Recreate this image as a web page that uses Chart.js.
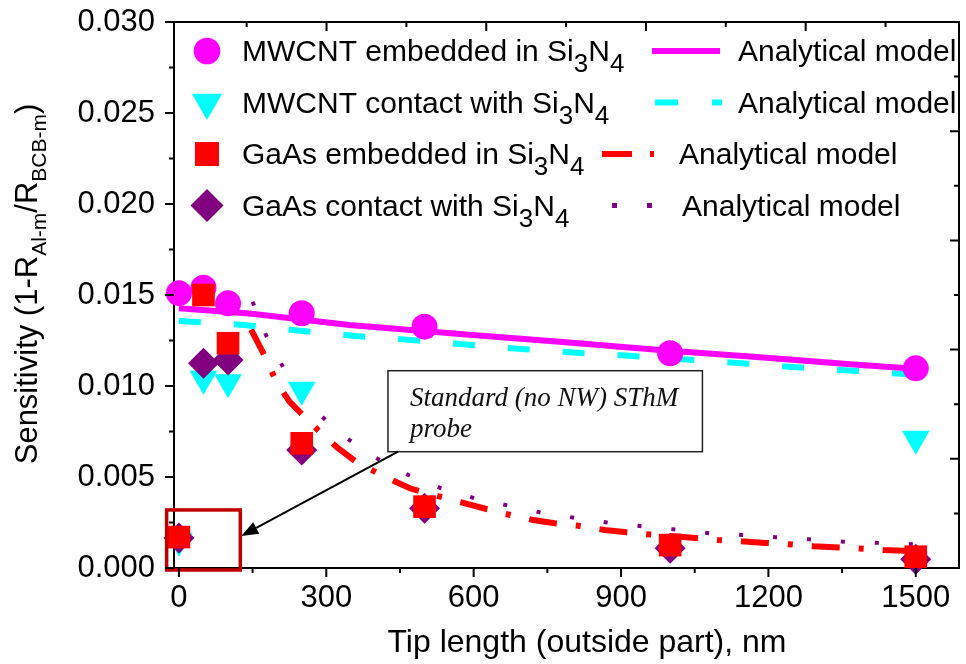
<!DOCTYPE html>
<html>
<head>
<meta charset="utf-8">
<title>Sensitivity vs tip length</title>
<script src="https://cdn.jsdelivr.net/npm/chart.js@4.4.1/dist/chart.umd.min.js"></script>
<style>
  html, body { margin: 0; padding: 0; background: #fff; }
  canvas { display: block; }
</style>
</head>
<body>
<canvas id="sensChart" width="966" height="664"></canvas>
<script>
// Measured points (tip length in nm)
const tipLength = [0, 50, 100, 250, 500, 1000, 1500];
const mwcntEmbedded = [0.0151, 0.0154, 0.01454, 0.0140, 0.01326, 0.0118, 0.01097];
const gaasEmbedded = [0.0017, 0.0150, 0.01235, 0.00685, 0.00337, 0.00126, 0.00062];
const gaasContact = [0.00165, 0.01125, 0.01143, 0.00648, 0.00328, 0.00108, 0.00048];
const mwcntContactLength = [0, 50, 100, 250, 1500];
const mwcntContact = [0.0015, 0.0104, 0.0102, 0.0098, 0.0071];

// Analytical model curves
const mwcntEmbModelX = [0, 144, 347, 572, 775, 979, 1183, 1387, 1500];
const mwcntEmbModelY = [0.01427, 0.01398, 0.01335, 0.01286, 0.01243, 0.01198, 0.01158, 0.01115, 0.01095];
const mwcntConModelX = [0, 134, 246, 358, 472, 697, 810, 923, 1145, 1257, 1372, 1500];
const mwcntConModelY = [0.01357, 0.01335, 0.01304, 0.01275, 0.01253, 0.01203, 0.01183, 0.01165, 0.01125, 0.01103, 0.01084, 0.01062];
const gaasEmbModelX = [147, 178, 198, 225, 283, 324, 365, 426, 470, 521, 575, 660, 721, 765, 810, 867, 911, 959, 1020, 1097, 1152, 1193, 1239, 1291, 1380, 1434, 1500];
const gaasEmbModelY = [0.0131, 0.01147, 0.01024, 0.00914, 0.00758, 0.00658, 0.00575, 0.00493, 0.00438, 0.0040, 0.0036, 0.0030, 0.00264, 0.00246, 0.00233, 0.00209, 0.00196, 0.00184, 0.00172, 0.00154, 0.00145, 0.00138, 0.00131, 0.00120, 0.00108, 0.00099, 0.00092];
const gaasConModelX = [150, 178, 215, 263, 327, 396, 467, 534, 602, 674, 745, 813, 881, 952, 1020, 1084, 1149, 1215, 1282, 1349, 1416, 1500];
const gaasConModelY = [0.01463, 0.01275, 0.01088, 0.00905, 0.0074, 0.00612, 0.00511, 0.00438, 0.00383, 0.00341, 0.0030, 0.00273, 0.00246, 0.00227, 0.00209, 0.0019, 0.00181, 0.00169, 0.00158, 0.00145, 0.00139, 0.0013];

const xTickStep = 150;
const yTickStep = 0.0025;

const MAGENTA = '#ff00ff';
const CYAN = '#00ffff';
const RED = '#ff0000';
const PURPLE = '#800080';
const SANS = "'Liberation Sans', Arial, Helvetica, sans-serif";
const SERIF = "'Liberation Serif', 'Times New Roman', serif";

Chart.defaults.font.family = SANS;
Chart.defaults.color = '#000';

function zip(xs, ys) {
  return xs.map((x, i) => ({ x: x, y: ys[i] }));
}

function markerSet(label, xs, ys, color, style, radius, rotation) {
  return {
    label: label,
    data: zip(xs, ys),
    showLine: false,
    pointStyle: style,
    pointRadius: radius,
    pointHoverRadius: radius,
    pointRotation: rotation,
    pointBorderWidth: 0,
    backgroundColor: color,
    borderColor: color,
    clip: false
  };
}

function modelSet(label, xs, ys, color, width, dash) {
  return {
    label: label,
    data: zip(xs, ys),
    showLine: true,
    pointRadius: 0,
    borderColor: color,
    borderWidth: width,
    borderDash: dash,
    tension: 0,
    fill: false,
    clip: false
  };
}

// "Standard probe" callout, placed in data units
const probeNote = {
  lines: ['Standard (no NW) SThM', 'probe'],
  box: { x0: 425.6, y0: 0.01084, x1: 1065.7, y1: 0.00639 },
  arrowFrom: { x: 446, y: 0.00639 },
  arrowTo: { x: 127, y: 0.00176 },
  mark: { x0: -25, y0: 0.00319, x1: 125, y1: -0.00011 }
};

const legendRows = [
  { parts: [['MWCNT embedded in Si'], ['3', 1], ['N'], ['4', 1]], color: MAGENTA, style: 'circle', radius: 13.3, rotation: 0,
    sample: { x0: 652, x1: 720, dash: [], width: 6 }, modelX: 738 },
  { parts: [['MWCNT contact with Si'], ['3', 1], ['N'], ['4', 1]], color: CYAN, style: 'triangle', radius: 17.5, rotation: 180,
    sample: { x0: 655, x1: 722, dash: [23, 34, 10, 200], width: 6 }, modelX: 738 },
  { parts: [['GaAs embedded in Si'], ['3', 1], ['N'], ['4', 1]], color: RED, style: 'rect', radius: 17, rotation: 0,
    sample: { x0: 602, x1: 654, dash: [30, 18, 4, 200], width: 6 }, modelX: 679 },
  { parts: [['GaAs contact with Si'], ['3', 1], ['N'], ['4', 1]], color: PURPLE, style: 'rectRot', radius: 16.5, rotation: 0,
    sample: { x0: 612, x1: 652, dash: [5, 30, 5, 200], width: 5 }, modelX: 682 }
];

function drawRich(ctx, parts, x, y, size, subSize, subShift) {
  let cx = x;
  parts.forEach(p => {
    ctx.font = (p[1] ? subSize : size) + 'px ' + SANS;
    ctx.fillText(p[0], cx, y + (p[1] ? subShift : 0));
    cx += ctx.measureText(p[0]).width;
  });
  return cx;
}

function richWidth(ctx, parts, size, subSize) {
  let w = 0;
  parts.forEach(p => {
    ctx.font = (p[1] ? subSize : size) + 'px ' + SANS;
    w += ctx.measureText(p[0]).width;
  });
  return w;
}

// fixed box sizes so the plot frame lands where it should; drop the label overhang padding
function pinSize(size) {
  return function (scale) {
    if (scale.isHorizontal()) scale.height = size; else scale.width = size;
    scale.paddingTop = 0;
    scale.paddingBottom = 0;
    scale.paddingLeft = 0;
    scale.paddingRight = 0;
  };
}

// frame ticks: outward on left/bottom, inward on top/right, major longer than minor
const frameTicks = {
  id: 'frameTicks',
  afterDraw(chart) {
    const { ctx, chartArea: a, scales } = chart;
    ctx.save();
    ctx.strokeStyle = '#000';
    ctx.lineWidth = 2;
    ctx.beginPath();
    const mark = (scale, major, edge, dir) => {
      scale.ticks.forEach(t => {
        const r = t.value / major;
        const len = Math.abs(r - Math.round(r)) < 1e-6 ? 9 : 5;
        const p = scale.getPixelForValue(t.value);
        if (scale.isHorizontal()) {
          ctx.moveTo(p, edge);
          ctx.lineTo(p, edge + dir * len);
        } else {
          ctx.moveTo(edge, p);
          ctx.lineTo(edge + dir * len, p);
        }
      });
    };
    mark(scales.x, 300, a.bottom, 1);
    mark(scales.y, 0.005, a.left, -1);
    mark(scales.x2, 2, a.top, 1);
    mark(scales.y2, 2, a.right, -1);
    ctx.stroke();
    ctx.restore();
  }
};

const titlesAndNotes = {
  id: 'titlesAndNotes',
  afterDatasetsDraw(chart) {
    const { ctx, scales } = chart;
    const sx = scales.x, sy = scales.y;
    ctx.save();
    ctx.fillStyle = '#000';
    ctx.textBaseline = 'alphabetic';
    ctx.textAlign = 'left';

    // axis titles
    ctx.font = '32px ' + SANS;
    const xTitle = 'Tip length (outside part), nm';
    const xw = ctx.measureText(xTitle).width;
    ctx.fillText(xTitle, 587 - xw / 2, 652);

    const yParts = [['Sensitivity (1-R'], ['Al-m', 1], ['/R'], ['BCB-m', 1], [')']];
    const yw = richWidth(ctx, yParts, 31, 21);
    ctx.save();
    ctx.translate(37, 284);
    ctx.rotate(-Math.PI / 2);
    drawRich(ctx, yParts, -yw / 2, 0, 31, 21, 9);
    ctx.restore();

    // legend
    legendRows.forEach((row, i) => {
      const base = 61 + 51.5 * i;
      const cy = base - 10;
      ctx.fillStyle = row.color;
      Chart.helpers.drawPoint(ctx, { pointStyle: row.style, radius: row.radius, rotation: row.rotation, borderWidth: 0 }, 207, cy);
      ctx.fillStyle = '#000';
      drawRich(ctx, row.parts, 242, base, 30, 26, 11);
      ctx.save();
      ctx.strokeStyle = row.color;
      ctx.lineWidth = row.sample.width;
      ctx.lineCap = 'butt';
      ctx.setLineDash(row.sample.dash);
      ctx.beginPath();
      ctx.moveTo(row.sample.x0, cy);
      ctx.lineTo(row.sample.x1, cy);
      ctx.stroke();
      ctx.restore();
      ctx.font = '30px ' + SANS;
      ctx.fillText('Analytical model', row.modelX, base);
    });

    // callout box for the standard probe
    const b = probeNote.box;
    const bx0 = sx.getPixelForValue(b.x0), by0 = sy.getPixelForValue(b.y0);
    const bx1 = sx.getPixelForValue(b.x1), by1 = sy.getPixelForValue(b.y1);
    ctx.fillStyle = '#fff';
    ctx.fillRect(bx0, by0, bx1 - bx0, by1 - by0);
    ctx.strokeStyle = '#222';
    ctx.lineWidth = 1.5;
    ctx.strokeRect(bx0, by0, bx1 - bx0, by1 - by0);
    ctx.fillStyle = '#111';
    ctx.font = 'italic 27px ' + SERIF;
    ctx.fillText(probeNote.lines[0], bx0 + 22, by0 + 35);
    ctx.fillText(probeNote.lines[1], bx0 + 22, by0 + 66);

    // arrow
    const ax0 = sx.getPixelForValue(probeNote.arrowFrom.x), ay0 = sy.getPixelForValue(probeNote.arrowFrom.y);
    const ax1 = sx.getPixelForValue(probeNote.arrowTo.x), ay1 = sy.getPixelForValue(probeNote.arrowTo.y);
    const ang = Math.atan2(ay1 - ay0, ax1 - ax0);
    const head = 17, half = 6.5;
    const hx = ax1 - head * Math.cos(ang), hy = ay1 - head * Math.sin(ang);
    ctx.strokeStyle = '#000';
    ctx.lineWidth = 2;
    ctx.beginPath();
    ctx.moveTo(ax0, ay0);
    ctx.lineTo(hx, hy);
    ctx.stroke();
    ctx.fillStyle = '#000';
    ctx.beginPath();
    ctx.moveTo(ax1, ay1);
    ctx.lineTo(hx + half * Math.sin(ang), hy - half * Math.cos(ang));
    ctx.lineTo(hx - half * Math.sin(ang), hy + half * Math.cos(ang));
    ctx.closePath();
    ctx.fill();

    // frame around the standard-probe points
    const m = probeNote.mark;
    const mx0 = sx.getPixelForValue(m.x0), my0 = sy.getPixelForValue(m.y0);
    const mx1 = sx.getPixelForValue(m.x1), my1 = sy.getPixelForValue(m.y1);
    ctx.strokeStyle = '#c00000';
    ctx.lineWidth = 3.5;
    ctx.strokeRect(mx0, my0, mx1 - mx0, my1 - my0);
    ctx.restore();
  }
};

const hiddenAxis = (pos, min, max, size) => ({
  type: 'linear',
  position: pos,
  min: min,
  max: max,
  grid: { display: false, drawTicks: false },
  border: { display: true, color: '#000', width: 2 },
  ticks: { display: false, stepSize: 1, includeBounds: false },
  afterFit: pinSize(size)
});

new Chart(document.getElementById('sensChart'), {
  type: 'scatter',
  data: {
    datasets: [
      markerSet('GaAs embedded in Si3N4', tipLength, gaasEmbedded, RED, 'rect', 16, 0),
      markerSet('GaAs contact with Si3N4', tipLength, gaasContact, PURPLE, 'rectRot', 15.5, 0),
      markerSet('MWCNT contact with Si3N4', mwcntContactLength, mwcntContact, CYAN, 'triangle', 16, 180),
      markerSet('MWCNT embedded in Si3N4', tipLength, mwcntEmbedded, MAGENTA, 'circle', 13, 0),
      modelSet('Analytical model', mwcntEmbModelX, mwcntEmbModelY, MAGENTA, 6, []),
      modelSet('Analytical model', mwcntConModelX, mwcntConModelY, CYAN, 6, [22, 33]),
      modelSet('Analytical model', gaasEmbModelX, gaasEmbModelY, RED, 6, [28, 19, 5, 19]),
      modelSet('Analytical model', gaasConModelX, gaasConModelY, PURPLE, 4, [4, 30])
    ]
  },
  options: {
    responsive: false,
    animation: false,
    devicePixelRatio: 1,
    layout: { padding: 0, autoPadding: false },
    plugins: { legend: { display: false }, tooltip: { enabled: false } },
    scales: {
      x: {
        type: 'linear',
        position: 'bottom',
        min: -10,
        max: 1588,
        grid: { display: false, drawTicks: false },
        border: { display: true, color: '#000', width: 2 },
        ticks: {
          stepSize: xTickStep,
          includeBounds: false,
          autoSkip: false,
          maxRotation: 0,
          padding: 12,
          font: { size: 31 },
          color: '#000',
          callback: v => (Math.round(v / xTickStep) % 2 === 0 ? String(v) : '')
        },
        afterFit: pinSize(96)
      },
      y: {
        type: 'linear',
        position: 'left',
        min: 0,
        max: 0.03,
        grid: { display: false, drawTicks: false },
        border: { display: true, color: '#000', width: 2 },
        ticks: {
          stepSize: yTickStep,
          includeBounds: false,
          autoSkip: false,
          padding: 19,
          font: { size: 31 },
          color: '#000',
          callback: v => (Math.round(v / yTickStep) % 2 === 0 ? v.toFixed(3) : '')
        },
        afterFit: pinSize(174)
      },
      x2: hiddenAxis('top', 0.09, 9.92, 22),
      y2: hiddenAxis('right', 0, 10, 7)
    }
  },
  plugins: [titlesAndNotes, frameTicks]
});
</script>
</body>
</html>
